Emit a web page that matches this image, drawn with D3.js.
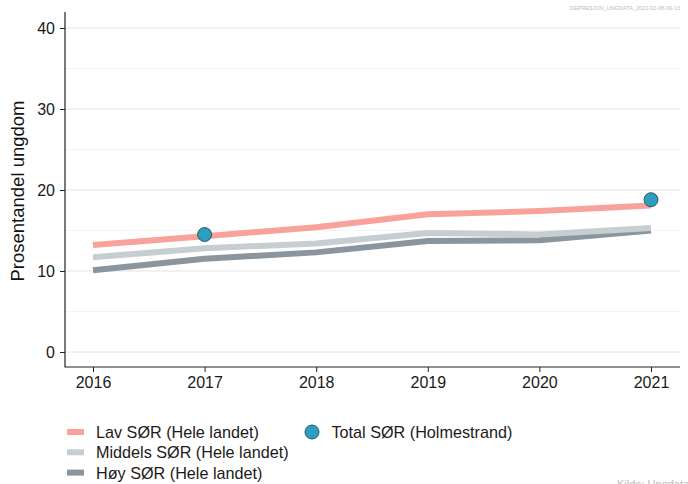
<!DOCTYPE html>
<html><head><meta charset="utf-8">
<script src="https://cdn.jsdelivr.net/npm/d3@7"></script>
<style>body{margin:0;background:#fff;} text{font-family:"Liberation Sans",Arial,sans-serif;}</style>
</head><body>
<svg id="c" width="688" height="484"></svg>
<script>
const years = [2016, 2017, 2018, 2019, 2020, 2021];
const lav = [13.2, 14.3, 15.4, 17.0, 17.4, 18.1];
const middels = [11.7, 12.8, 13.4, 14.7, 14.5, 15.3];
const hoy = [10.1, 11.5, 12.3, 13.7, 13.8, 15.0];
const totalYears = [2017, 2021];
const total = [14.5, 18.8];
const yTicks = [0, 10, 20, 30, 40];
const yMinor = [5, 15, 25, 35];
const seriesNames = ["Lav SØR (Hele landet)", "Middels SØR (Hele landet)", "Høy SØR (Hele landet)"];
const totalName = "Total SØR (Holmestrand)";

const svg = d3.select("#c");
const x = d3.scaleLinear().domain([2016, 2021]).range([93, 651]);
const y = d3.scaleLinear().domain([0, 40]).range([352, 28]);
const pLeft = 65, pRight = 680, pTop = 12, pBottom = 367;

// grid
svg.append("g").selectAll("line").data(yMinor).join("line")
  .attr("x1", pLeft).attr("x2", pRight).attr("y1", d => y(d)).attr("y2", d => y(d))
  .attr("stroke", "#f3f3f3").attr("stroke-width", 1);
svg.append("g").selectAll("line").data(yTicks).join("line")
  .attr("x1", pLeft).attr("x2", pRight).attr("y1", d => y(d)).attr("y2", d => y(d))
  .attr("stroke", "#e4e4e4").attr("stroke-width", 1);

// axes
const yAxis = svg.append("g").attr("transform", `translate(${pLeft},0)`)
  .call(d3.axisLeft(y).tickValues(yTicks).tickSize(5).tickPadding(5));
yAxis.select(".domain").remove();
const xAxis = svg.append("g").attr("transform", `translate(0,${pBottom})`)
  .call(d3.axisBottom(x).tickValues(years).tickFormat(d3.format("d")).tickSize(5).tickPadding(4.5));
xAxis.select(".domain").remove();
svg.selectAll(".tick text").attr("font-size", 16).attr("fill", "#1a1a1a")
  .style("font-family", "'Liberation Sans',Arial,sans-serif");
svg.selectAll(".tick line").attr("stroke", "#222");
svg.append("path").attr("d", `M${pLeft},${pTop}V${pBottom}H${pRight}`).attr("fill", "none").attr("stroke", "#222").attr("stroke-width", 1.2);

svg.append("text").attr("transform", `translate(24,191) rotate(-90)`)
  .attr("text-anchor", "middle").attr("font-size", 18.5).attr("fill", "#111").text("Prosentandel ungdom");

// lines
const colors = ["#f9a29b", "#c6ced1", "#8a959d"];
const data = [lav, middels, hoy];
const line = d3.line().x((d, i) => x(years[i])).y(d => y(d));
[2, 1, 0].forEach(k => {
  svg.append("path").datum(data[k]).attr("d", line).attr("fill", "none")
    .attr("stroke", colors[k]).attr("stroke-width", 6).attr("stroke-linejoin", "round");
});

// points
svg.append("g").selectAll("circle").data(total).join("circle")
  .attr("cx", (d, i) => x(totalYears[i])).attr("cy", d => y(d)).attr("r", 7)
  .attr("fill", "#2a9fbf").attr("stroke", "#1d3b48").attr("stroke-width", 0.8);

// legend
const lg = svg.append("g");
seriesNames.forEach((n, i) => {
  const yy = 432 + i * 20.3;
  lg.append("line").attr("x1", 67).attr("x2", 84).attr("y1", yy).attr("y2", yy)
    .attr("stroke", colors[i]).attr("stroke-width", 6);
  lg.append("text").attr("x", 96).attr("y", yy + 6).attr("font-size", 16.2).attr("fill", "#1a1a1a").text(n);
});
lg.append("circle").attr("cx", 312).attr("cy", 432).attr("r", 7).attr("fill", "#2a9fbf").attr("stroke", "#1d3b48").attr("stroke-width", 0.8);
lg.append("text").attr("x", 331.5).attr("y", 438).attr("font-size", 16.2).attr("fill", "#1a1a1a").text(totalName);

svg.append("text").attr("x", 680).attr("y", 10).attr("text-anchor", "end").attr("font-size", 5.5).attr("fill", "#bbb").text("DEPRESJON_UNGDATA_2022-02-08-09-13");
svg.append("text").attr("x", 617).attr("y", 488).attr("font-size", 11).attr("fill", "#bbb").text("Kilde: Ungdata");
</script>
</body></html>
